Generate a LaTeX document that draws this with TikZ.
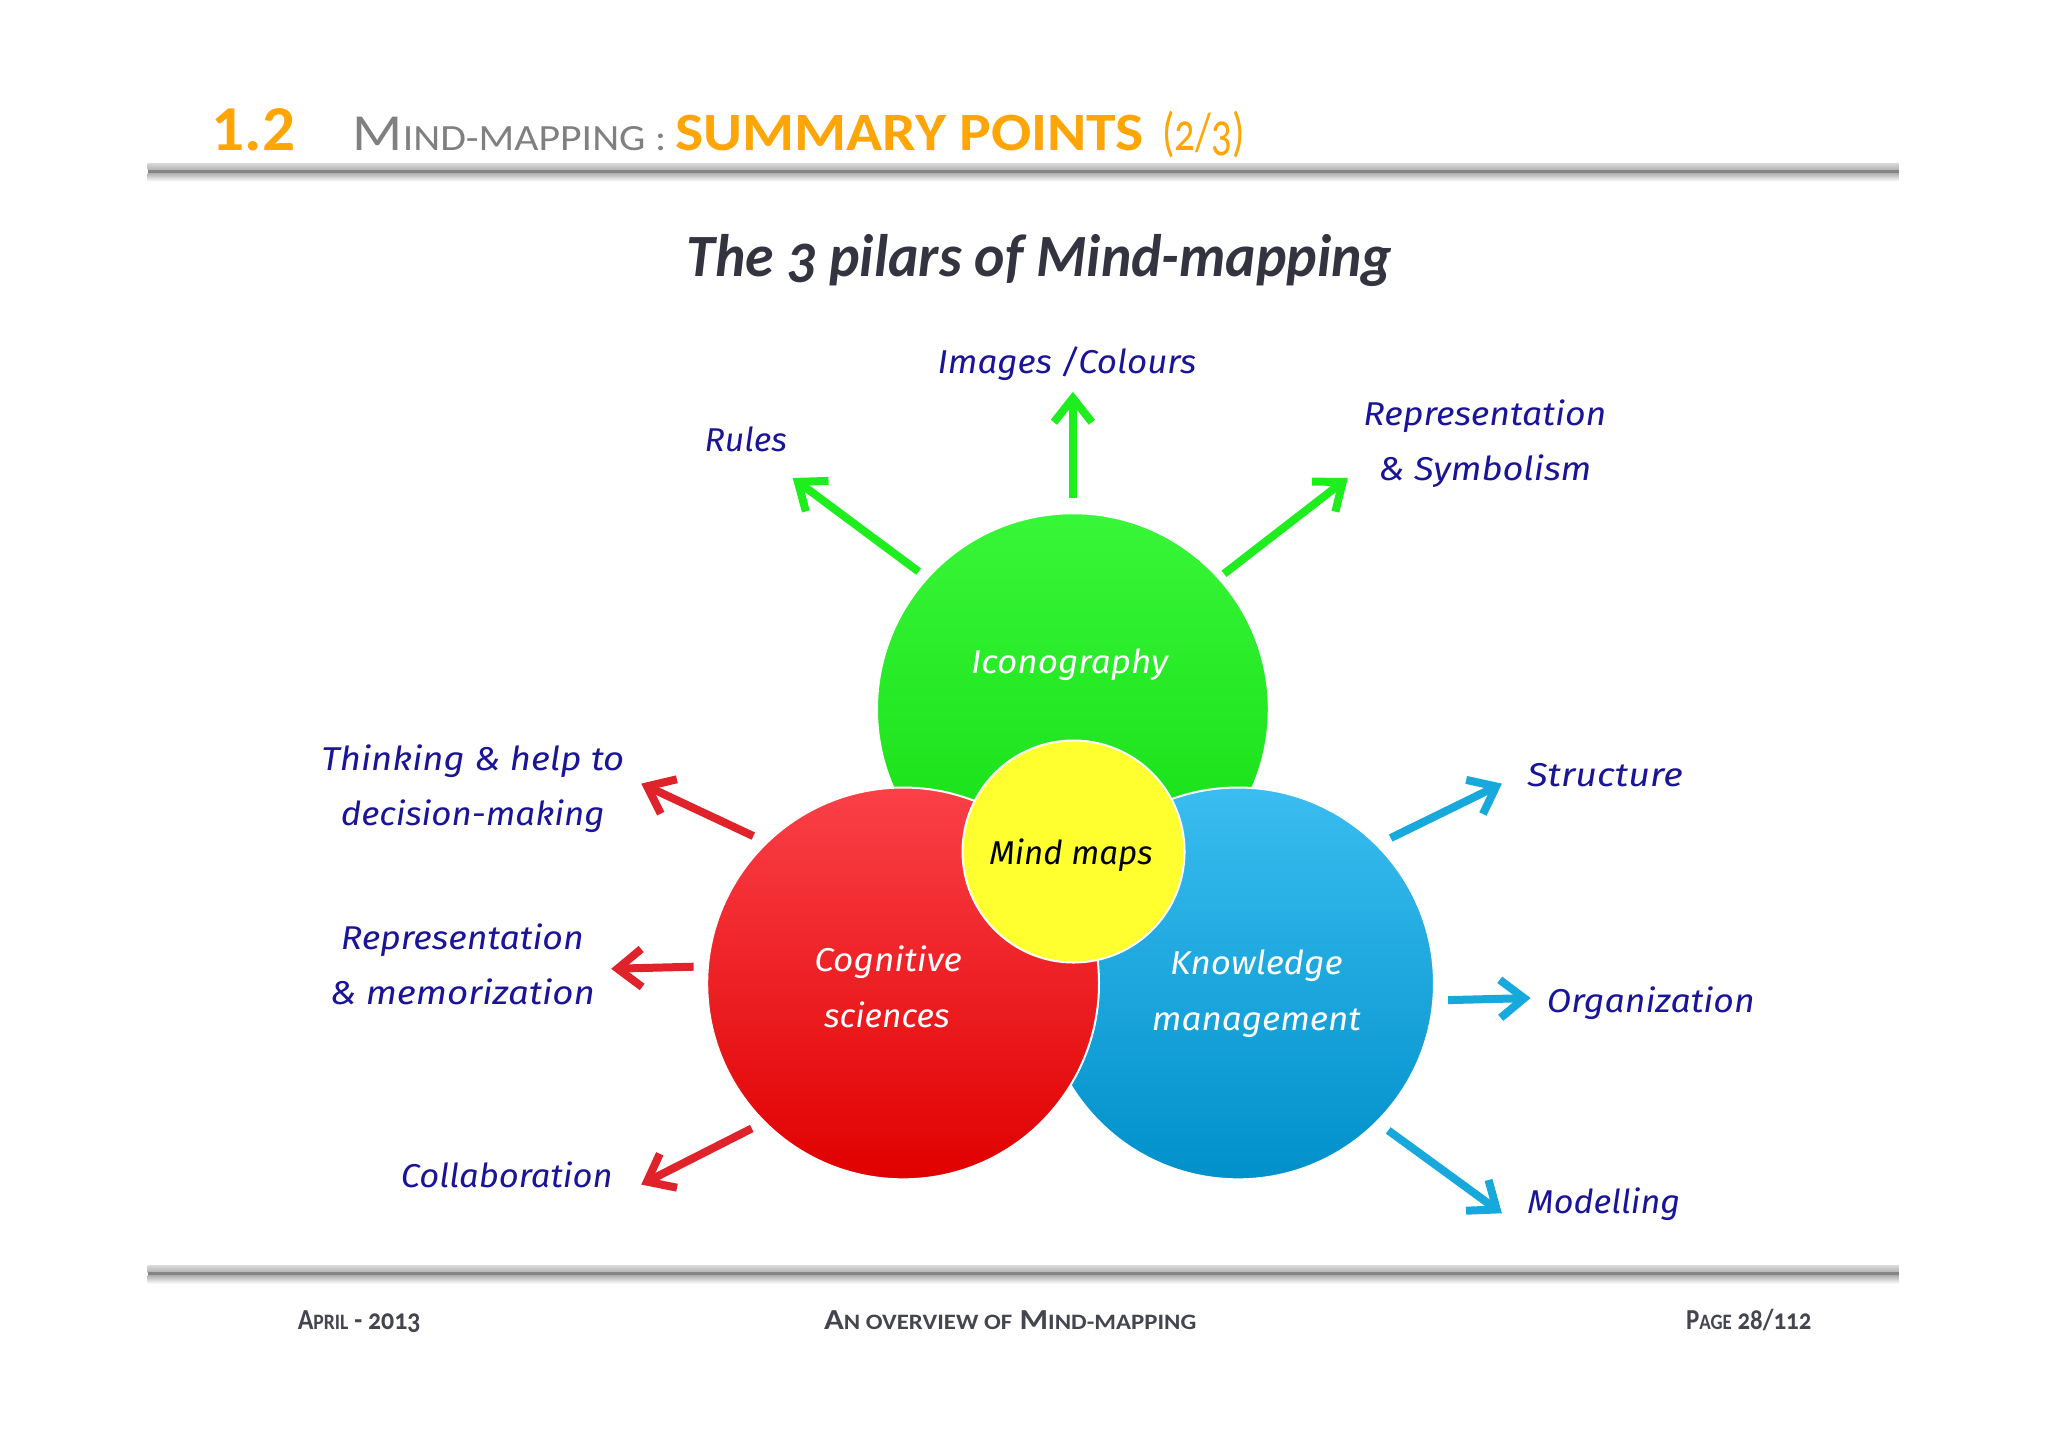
\documentclass[tikz,border=0pt]{standalone}
\usepackage{fontspec}
\usepackage{graphicx}
\usetikzlibrary{arrows.meta}
\setmainfont{Carlito}[Numbers=OldStyle]
\newfontfamily\hand{Fira Sans}
\newfontfamily\liningf{Carlito}[Numbers=Lining]
\newdimen\ux \ux=1.306pt
\newcommand{\fitw}[2]{\resizebox{#1\ux}{\height}{#2}}
\newcommand{\smh}[1]{{\fontsize{37}{40}\selectfont #1}}
\newcommand{\smf}[1]{{\fontsize{22}{24}\selectfont #1}}
\definecolor{hdrorange}{HTML}{FFA506}
\definecolor{hdrgray}{HTML}{808080}
\definecolor{titlecol}{HTML}{33343F}
\definecolor{footcol}{HTML}{44454F}
\definecolor{inkblue}{HTML}{1A1499}
\definecolor{arrgreen}{HTML}{1EEE1E}
\definecolor{arrred}{HTML}{E0222A}
\definecolor{arrblue}{HTML}{17A8DC}
\definecolor{gtop}{HTML}{38F638}
\definecolor{gbot}{HTML}{12DC12}
\definecolor{rtop}{HTML}{FA4048}
\definecolor{rbot}{HTML}{E00000}
\definecolor{btop}{HTML}{3ABDF0}
\definecolor{bbot}{HTML}{0090CA}
\definecolor{ruledark}{HTML}{858585}
\definecolor{rulelite}{HTML}{D8D8D8}
\definecolor{rulemid}{HTML}{B4B4B4}
\definecolor{discyellow}{HTML}{FFFF30}
\tikzset{
  disc/.style={circle,inner sep=0pt,outer sep=0pt,minimum size=300*1.306pt,draw=white,line width=2pt},
  lab/.style={anchor=base,inner sep=0pt,outer sep=0pt,text=inkblue,font=\hand\itshape\fontsize{33}{36}\selectfont},
  inlab/.style={lab,text=white},
  hdr/.style={anchor=base west,inner sep=0pt,outer sep=0pt},
  foot/.style={anchor=base west,inner sep=0pt,outer sep=0pt,text=footcol,font=\bfseries\fontsize{29}{32}\selectfont},
  arr/.style={line width=8pt,-{Straight Barb[length=24pt,width=38pt,line width=8pt]}},
  garr/.style={arr,color=arrgreen},
  rarr/.style={arr,color=arrred},
  barr/.style={arr,color=arrblue},
}
\begin{document}
\begin{tikzpicture}[x=1.306pt,y=-1.306pt]
\path[use as bounding box,fill=white] (0,0) rectangle (2048pt,-1447pt);
% rules
\shade[top color=rulelite,bottom color=rulemid] (113,125) rectangle (1454,130);
\fill[ruledark] (113,130) rectangle (1454,133);
\shade[top color=rulemid,bottom color=white] (113,133) rectangle (1454,139);
\shade[top color=rulelite,bottom color=rulemid] (113,969) rectangle (1454,974);
\fill[ruledark] (113,974) rectangle (1454,977);
\shade[top color=rulemid,bottom color=white] (113,977) rectangle (1454,983);
% header
\node[hdr,text=hdrorange,font=\liningf\bfseries\fontsize{64}{68}\selectfont] (num) at (162,115) {\fitw{64}{1.2}};
\node[hdr,text=hdrgray,font=\fontsize{52}{56}\selectfont] (h1) at (270,115) {\fitw{240}{M\smh{IND-MAPPING :}}};
\node[hdr,text=hdrorange,font=\bfseries\fontsize{54}{58}\selectfont] (h2) at (517,115) {\fitw{359}{SUMMARY POINTS}};
\node[hdr,text=hdrorange,font=\fontsize{54}{58}\selectfont] (h3) at (890,115) {\fitw{63}{(2/3)}};
% title
\node[anchor=base,inner sep=0pt,text=titlecol,font=\bfseries\itshape\fontsize{60}{64}\selectfont] (title) at (796,212) {\fitw{540}{The 3 pilars of Mind-mapping}};
% discs
\node[disc,top color=gtop,bottom color=gbot] (green) at (821.5,543) {};
\node[disc,top color=btop,bottom color=bbot] (blue) at (948,753) {};
\node[disc,top color=rtop,bottom color=rbot] (red) at (691.5,753) {};
\node[disc,fill=discyellow,minimum size=170*1.306pt] (yel) at (822,652) {};
% inner texts
\node[inlab] (t1) at (819,516) {\fitw{151}{Iconography}};
\node[inlab] (t2) at (680,744) {\fitw{113}{Cognitive}};
\node[inlab] (t3) at (679,787) {\fitw{96}{sciences}};
\node[inlab] (t4) at (962,746) {\fitw{132}{Knowledge}};
\node[inlab] (t5) at (962,789) {\fitw{160}{management}};
\node[lab,text=black] (t6) at (820,662) {\fitw{125}{Mind maps}};
% outer labels
\node[lab] (l1) at (817,286) {\fitw{198}{Images /Colours}};
\node[lab] (l2) at (571,346) {\fitw{63}{Rules}};
\node[lab] (l3) at (1137,326) {\fitw{186}{Representation}};
\node[lab] (l4) at (1137,368) {\fitw{163}{\& Symbolism}};
\node[lab] (l5) at (362,590) {\fitw{232}{Thinking \& help to}};
\node[lab] (l6) at (362,632) {\fitw{202}{decision-making}};
\node[lab] (l7) at (354,727) {\fitw{186}{Representation}};
\node[lab] (l8) at (354,769) {\fitw{203}{\& memorization}};
\node[lab] (l9) at (388,909) {\fitw{162}{Collaboration}};
\node[lab] (l10) at (1229,602) {\fitw{119}{Structure}};
\node[lab] (l11) at (1264,775) {\fitw{159}{Organization}};
\node[lab] (l12) at (1228,929) {\fitw{117}{Modelling}};
% arrow tips
\coordinate (tg1) at (607,366);
\coordinate (tg2) at (821.5,300);
\coordinate (tg3) at (1032,366);
\coordinate (tr1) at (491,600);
\coordinate (tr2) at (468,741.8);
\coordinate (tr3) at (491,907);
\coordinate (tb1) at (1150,600);
\coordinate (tb2) at (1172,764.2);
\coordinate (tb3) at (1150,929);
% arrows
\draw[garr,shorten <=8.3*1.306pt] (green.138.5) -- (tg1);
\draw[garr,shorten <=12*1.306pt] (green.90) -- (tg2);
\draw[garr,shorten <=5.4*1.306pt] (green.42.5) -- (tg3);
\draw[rarr,shorten <=11.6*1.306pt] (red.134.6) -- (tr1);
\draw[rarr,shorten <=11*1.306pt] (red.175.7) -- (tr2);
\draw[rarr,shorten <=11*1.306pt] (red.225.1) -- (tr3);
\draw[barr,shorten <=12*1.306pt] (blue.45.2) -- (tb1);
\draw[barr,shorten <=11.4*1.306pt] (blue.355.7) -- (tb2);
\draw[barr,shorten <=11*1.306pt] (blue.315) -- (tb3);
% footer
\node[foot] (f1) at (228,1018) {\fitw{94}{A\smf{PRIL} - 2013}};
\node[foot] (f2) at (631,1018) {\fitw{285}{A\smf{N OVERVIEW OF} M\smf{IND-MAPPING}}};
\node[foot] (f3) at (1291,1018) {\fitw{96}{P\smf{AGE} 28/112}};
\end{tikzpicture}
\end{document}
